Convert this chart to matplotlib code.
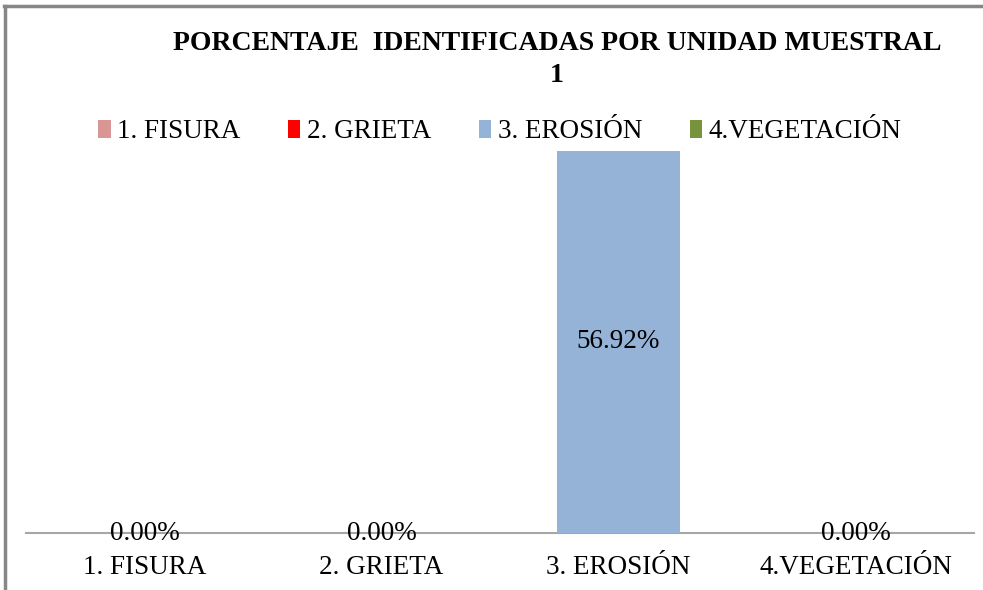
import matplotlib
matplotlib.use("Agg")
import matplotlib.pyplot as plt
from matplotlib.patches import Patch
from matplotlib.lines import Line2D

categories = ["1. FISURA", "2. GRIETA", "3. EROSIÓN", "4.VEGETACIÓN"]
values = [0.0, 0.0, 56.92, 0.0]
colors = ["#D99694", "#FF0000", "#95B3D7", "#77933C"]
title_line1 = "PORCENTAJE  IDENTIFICADAS POR UNIDAD MUESTRAL"
title_line2 = "1"

plt.rcParams["font.family"] = ["Liberation Serif", "DejaVu Serif"]

W, H = 983, 590
fig = plt.figure(figsize=(W / 100, H / 100), dpi=100)

# axes: baseline at y=533, x from 26 to 974; bar top at y=151
x0, x1 = 26, 974
ybase, ytop = 533, 151
ax = fig.add_axes([x0 / W, (H - ybase) / H, (x1 - x0) / W, (ybase - ytop) / H])

xs = list(range(len(categories)))
ax.bar(xs, values, width=0.515, color=colors, zorder=2)
ax.set_xlim(-0.5, len(categories) - 0.5)
ax.set_ylim(0, max(values))

for s in ["top", "right", "left"]:
    ax.spines[s].set_visible(False)
ax.spines["bottom"].set_color("#A6A6A6")
ax.spines["bottom"].set_linewidth(1.5)
ax.spines["bottom"].set_zorder(1)
ax.set_yticks([])
ax.set_xticks(xs)
ax.set_xticklabels(categories, fontsize=19.5)
ax.tick_params(axis="x", length=0, pad=16, colors="black")

for x, v in zip(xs, values):
    ax.text(x, v / 2, f"{v:.2f}%", ha="center", va="center", fontsize=19.5, zorder=3)

fig.text(557 / W, 1 - 43 / H, title_line1,
         ha="center", va="center", fontsize=20, fontweight="bold")
fig.text(557 / W, 1 - 75 / H, title_line2, ha="center", va="center", fontsize=20, fontweight="bold")

handles = [Patch(facecolor=c, edgecolor="none") for c in colors]
leg = fig.legend(handles, categories, loc="center", bbox_to_anchor=(500 / W, 1 - 132 / H),
                 ncol=4, frameon=False, fontsize=19.5, handlelength=0.45, handleheight=0.6,
                 handletextpad=0.25, columnspacing=1.75)

# chart border (top and left visible)
fig.add_artist(Line2D([4 / W, 1], [1 - 6 / H, 1 - 6 / H], transform=fig.transFigure,
                      color="#878787", linewidth=2.5))
fig.add_artist(Line2D([5 / W, 5 / W], [0, 1 - 6 / H], transform=fig.transFigure,
                      color="#878787", linewidth=2.5))

fig.savefig("out.png", dpi=100)
